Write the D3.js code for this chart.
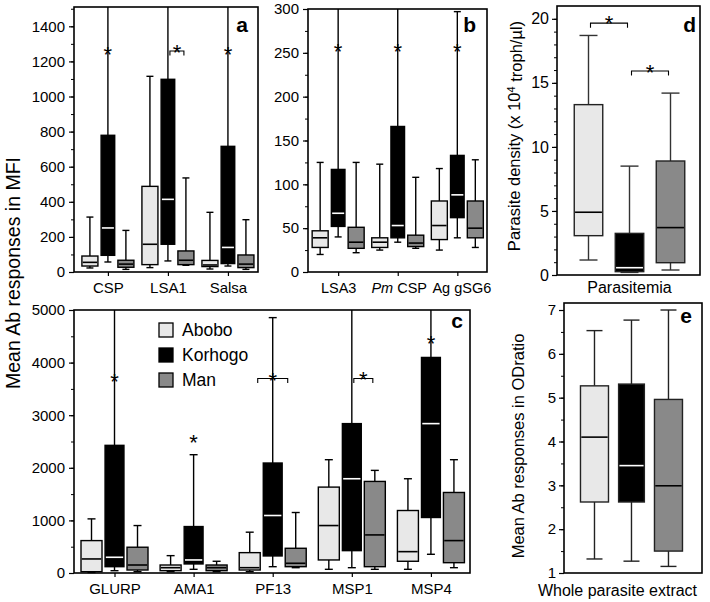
<!DOCTYPE html>
<html><head><meta charset="utf-8">
<script src="https://cdn.jsdelivr.net/npm/d3@7"></script>
<style>body{margin:0;background:#fff} svg{font-family:"Liberation Sans",Arial,Helvetica,sans-serif}</style>
</head><body><svg id="chart" width="710" height="602"></svg>
<script>
// ---------- data ----------
const groups = ["Abobo", "Korhogo", "Man"];
const groupColors = ["#e8e8e8", "#000000", "#898989"];
const medianColors = ["#000000", "#ffffff", "#000000"];

// stats per box: [min, q1, median, q3, max]
// Panel a
const catsA = ["CSP", "LSA1", "Salsa"];
const ticksA = [0, 200, 400, 600, 800, 1000, 1200, 1400];
const aAbobo   = [[23, 34, 55, 91, 313], [25, 42, 158, 488, 1115], [17, 31, 40, 66, 340]];
const aKorhogo = [[57, 95, 251, 779, 1600], [63, 158, 414, 1098, 1600], [34, 48, 140, 716, 1600]];
const aMan     = [[15, 27, 45, 67, 237], [38, 42, 67, 120, 536], [15, 25, 45, 97, 298]];
const starsA = [["CSP", "Korhogo", 1267], ["Salsa", "Korhogo", 1267]];
const bracketsA = [["LSA1", "Korhogo", "Man", 1259, 1278]];

// Panel b
const catsB = ["LSA3", "Pm CSP", "Ag gSG6"];
const ticksB = [0, 50, 100, 150, 200, 250, 300];
const bAbobo   = [[20, 28, 39, 47, 125], [25, 28, 34, 39, 123], [25, 37, 53, 81, 118]];
const bKorhogo = [[40, 52, 67, 117, 320], [34, 39, 53, 166, 320], [39, 62, 88, 133, 297]];
const bMan     = [[22, 27, 34, 51, 125], [27, 29, 33, 42, 108], [28, 39, 50, 81, 128]];
const starsB = [["LSA3", "Korhogo", 257], ["Pm CSP", "Korhogo", 257], ["Ag gSG6", "Korhogo", 257]];

// Panel c
const catsC = ["GLURP", "AMA1", "PF13", "MSP1", "MSP4"];
const ticksC = [0, 1000, 2000, 3000, 4000, 5000];
const cAbobo   = [[10, 25, 267, 616, 1029], [25, 44, 101, 152, 330], [25, 57, 101, 387, 776], [70, 248, 902, 1633, 2154], [70, 223, 406, 1188, 1792]];
const cKorhogo = [[44, 120, 299, 2427, 5300], [70, 172, 248, 883, 2249], [120, 324, 1093, 2091, 4855], [101, 425, 1792, 2840, 5300], [356, 1055, 2840, 4098, 5300]];
const cMan     = [[25, 57, 152, 490, 902], [25, 44, 101, 152, 223], [101, 120, 185, 470, 1150], [70, 120, 724, 1741, 1951], [101, 196, 616, 1531, 2154]];
const starsC = [["GLURP", "Korhogo", 3731], ["AMA1", "Korhogo", 2587], ["MSP4", "Korhogo", 4455]];
const bracketsC = [["PF13", "Abobo", "Man", 3698, 3755], ["MSP1", "Korhogo", "Man", 3698, 3778]];

// Panel d
const catsD = ["Parasitemia"];
const ticksD = [0, 5, 10, 15, 20];
const dAbobo   = [[1.17, 3.07, 4.9, 13.3, 18.7]];
const dKorhogo = [[0.2, 0.26, 0.57, 3.25, 8.5]];
const dMan     = [[0.39, 0.96, 3.7, 8.9, 14.2]];
const bracketsD = [["Parasitemia", "Abobo", "Korhogo", 19.66, 20.0], ["Parasitemia", "Korhogo", "Man", 15.92, 16.24]];

// Panel e
const catsE = ["Whole parasite extract"];
const ticksE = [1, 2, 3, 4, 5, 6, 7];
const eAbobo   = [[1.32, 2.62, 4.10, 5.27, 6.53]];
const eKorhogo = [[1.27, 2.62, 3.45, 5.31, 6.77]];
const eMan     = [[1.15, 1.50, 2.99, 4.96, 7.0]];

// ---------- drawing ----------
const svg = d3.select("#chart");
const STAR = 22;

function panel(o) {
  const g = svg.append("g");
  const y = d3.scaleLinear().domain(o.yDomain).range([o.bottom, o.top]).clamp(true);
  const x = d3.scalePoint().domain(o.cats).range([o.left, o.right]).padding(o.pad).align(o.align);
  const gb = d3.scaleBand().domain(groups).range([-o.groupSpan / 2, o.groupSpan / 2]).paddingInner(o.groupGap);
  const bw = gb.bandwidth();
  const cx = (cat, grp) => x(cat) + gb(grp) + bw / 2;

  // minor ticks
  const minors = d3.range(o.yDomain[0], o.yDomain[1] - 1e-6, o.minor);
  g.append("g").attr("transform", `translate(${o.left},0)`)
    .call(d3.axisLeft(y).tickValues(minors).tickSize(3).tickFormat(""))
    .call(s => s.select(".domain").remove())
    .selectAll("line").attr("stroke", "#000").attr("stroke-width", 1);
  // major ticks
  const ya = g.append("g").attr("transform", `translate(${o.left},0)`)
    .call(d3.axisLeft(y).tickValues(o.yTicks).tickSize(5).tickPadding(o.tickPad).tickFormat(d => String(d)))
    .call(s => s.select(".domain").remove());
  ya.selectAll("line").attr("stroke", "#000").attr("stroke-width", 1.2);
  ya.selectAll("text").attr("fill", "#000").style("font-size", o.tickFont + "px")
    .style("font-family", '"Liberation Sans",Arial,sans-serif');

  // bottom axis
  if (o.xAxis) {
    const xa = g.append("g").attr("transform", `translate(0,${o.bottom})`)
      .call(d3.axisBottom(x).tickSize(4).tickPadding(6.5))
      .call(s => s.select(".domain").remove());
    xa.selectAll("line").attr("stroke", "#000").attr("stroke-width", 1.2);
    xa.selectAll("text").attr("fill", "#000").style("font-size", o.catFont + "px")
      .style("font-family", '"Liberation Sans",Arial,sans-serif')
      .attr("dx", (d, i) => (o.catShift ? o.catShift[i] : 0))
      .each(function (d) {
        if (d.startsWith("Pm ")) {
          const t = d3.select(this).text("");
          t.append("tspan").style("font-style", "italic").text("Pm");
          t.append("tspan").text(d.slice(2));
        }
      });
  } else {
    g.append("text").attr("x", x(o.cats[0]) + o.xLabelShift).attr("y", o.bottom + o.xLabelOffset)
      .attr("text-anchor", "middle").style("font-size", "16px").text(o.cats[0]);
  }

  // frame
  g.append("rect").attr("x", o.left).attr("y", o.top)
    .attr("width", o.right - o.left).attr("height", o.bottom - o.top)
    .attr("fill", "none").attr("stroke", "#000").attr("stroke-width", 1.6);

  // boxes
  o.series.forEach((ser, gi) => {
    const grp = groups[gi];
    ser.forEach((s, ci) => {
      const cat = o.cats[ci];
      const c = cx(cat, grp);
      const w = bw * o.widthF[gi];
      const [mn, q1, md, q3, mx] = s;
      const wg = g.append("g").attr("stroke", o.whiskerColor).attr("stroke-width", 1.4);
      wg.append("line").attr("x1", c).attr("x2", c).attr("y1", y(mn)).attr("y2", y(q1));
      wg.append("line").attr("x1", c - o.cap / 2).attr("x2", c + o.cap / 2).attr("y1", y(mn)).attr("y2", y(mn));
      wg.append("line").attr("x1", c).attr("x2", c).attr("y1", y(q3)).attr("y2", y(mx));
      if (mx <= o.yDomain[1]) {
        wg.append("line").attr("x1", c - o.cap / 2).attr("x2", c + o.cap / 2).attr("y1", y(mx)).attr("y2", y(mx));
      }
      g.append("rect").attr("x", c - w / 2).attr("y", y(q3))
        .attr("width", w).attr("height", Math.max(0.5, y(q1) - y(q3)))
        .attr("fill", groupColors[gi]).attr("stroke", o.boxStroke).attr("stroke-width", 1.4);
      g.append("line").attr("x1", c - w / 2 + 0.8).attr("x2", c + w / 2 - 0.8)
        .attr("y1", y(md)).attr("y2", y(md))
        .attr("stroke", medianColors[gi]).attr("stroke-width", 1.6);
    });
  });

  const star = (xx, v) => g.append("text").attr("x", xx).attr("y", y(v) + 0.575 * STAR)
    .attr("text-anchor", "middle").style("font-size", STAR + "px").text("*");

  (o.stars || []).forEach(([cat, grp, v]) => star(cx(cat, grp), v));
  (o.brackets || []).forEach(([cat, g1, g2, v, sv]) => {
    const i1 = groups.indexOf(g1), i2 = groups.indexOf(g2);
    const inset = (i2 - i1 > 1) ? 8 : 2;
    const x1 = cx(cat, g1) + inset, x2 = cx(cat, g2) - inset;
    g.append("path").attr("d", `M${x1},${y(v) + 4.5}V${y(v)}H${x2}V${y(v) + 4.5}`)
      .attr("fill", "none").attr("stroke", "#000").attr("stroke-width", 1.1);
    star((x1 + x2) / 2, sv);
  });

  g.append("text").attr("x", o.letterX).attr("y", o.letterY).attr("text-anchor", "end")
    .style("font-size", "21px").style("font-weight", "bold").text(o.letter);
  return { x, y };
}

panel({ left: 74, right: 258, top: 7, bottom: 272, yDomain: [0, 1510], yTicks: ticksA, minor: 100,
  cats: catsA, pad: 0.533, align: 0.53, groupSpan: 52, groupGap: 0.11, widthF: [1, 0.85, 1], cap: 7,
  series: [aAbobo, aKorhogo, aMan], stars: starsA, brackets: bracketsA, xAxis: true, catFont: 15,
  tickFont: 15, tickPad: 4, whiskerColor: "#000", boxStroke: "#000", letter: "a", letterX: 248, letterY: 32 });

panel({ left: 308, right: 487, top: 9, bottom: 272, yDomain: [0, 300], yTicks: ticksB, minor: 25,
  cats: catsB, pad: 0.502, align: 0.504, groupSpan: 52, groupGap: 0.11, widthF: [1, 0.85, 1], cap: 7,
  series: [bAbobo, bKorhogo, bMan], stars: starsB, xAxis: true, catFont: 14.5, catShift: [0, 1, 4],
  tickFont: 15, tickPad: 4, whiskerColor: "#000", boxStroke: "#000", letter: "b", letterX: 476, letterY: 32 });

panel({ left: 74, right: 470, top: 310, bottom: 573, yDomain: [0, 5000], yTicks: ticksC, minor: 500,
  cats: catsC, pad: 0.503, align: 0.509, groupSpan: 67, groupGap: 0.087, widthF: [1, 0.9, 1], cap: 8,
  series: [cAbobo, cKorhogo, cMan], stars: starsC, brackets: bracketsC, xAxis: true, catFont: 15,
  tickFont: 15, tickPad: 4, whiskerColor: "#000", boxStroke: "#000", letter: "c", letterX: 463, letterY: 328 });

panel({ left: 557, right: 700, top: 6, bottom: 275, yDomain: [0, 21], yTicks: ticksD, minor: 1,
  cats: catsD, pad: 0.5, align: 0.507, groupSpan: 110.5, groupGap: 0.305, widthF: [1, 1, 1], cap: 18,
  series: [dAbobo, dKorhogo, dMan], brackets: bracketsD, xAxis: false, xLabelShift: 0, xLabelOffset: 18,
  tickFont: 16, tickPad: 3, whiskerColor: "#333", boxStroke: "#222", letter: "d", letterX: 696, letterY: 32 });

panel({ left: 564, right: 702, top: 303, bottom: 573, yDomain: [1, 7.16], yTicks: ticksE, minor: 0.5,
  cats: catsE, pad: 0.5, align: 0.489, groupSpan: 102, groupGap: 0.243, widthF: [1, 0.92, 1], cap: 16,
  series: [eAbobo, eKorhogo, eMan], xAxis: false, xLabelShift: -14, xLabelOffset: 23,
  tickFont: 15, tickPad: 3, whiskerColor: "#222", boxStroke: "#222", letter: "e", letterX: 692, letterY: 323 });

// shared y label for a & c
svg.append("text").attr("transform", "translate(20,273) rotate(-90)")
  .attr("text-anchor", "middle").style("font-size", "19.5px").text("Mean Ab responses in MFI");

// d y label
const dl = svg.append("text").attr("transform", "translate(520,136) rotate(-90)")
  .attr("text-anchor", "middle").style("font-size", "16.5px");
dl.append("tspan").text("Parasite density (x 10");
dl.append("tspan").attr("dy", "-0.45em").style("font-size", "11px").text("4");
dl.append("tspan").attr("dy", "0.45em").text(" troph/µl)");

// e y label
svg.append("text").attr("transform", "translate(524,446) rotate(-90)")
  .attr("text-anchor", "middle").style("font-size", "16.5px").text("Mean Ab responses in ODratio");

// legend (in panel c)
const leg = svg.append("g");
groups.forEach((grp, i) => {
  const cy = 330 + i * 25;
  leg.append("rect").attr("x", 159).attr("y", cy - 7).attr("width", 14).attr("height", 14)
    .attr("fill", groupColors[i]).attr("stroke", "#000").attr("stroke-width", 1.3);
  leg.append("text").attr("x", 182).attr("y", cy + 6.3).style("font-size", "17.5px").text(grp);
});
</script></body></html>
